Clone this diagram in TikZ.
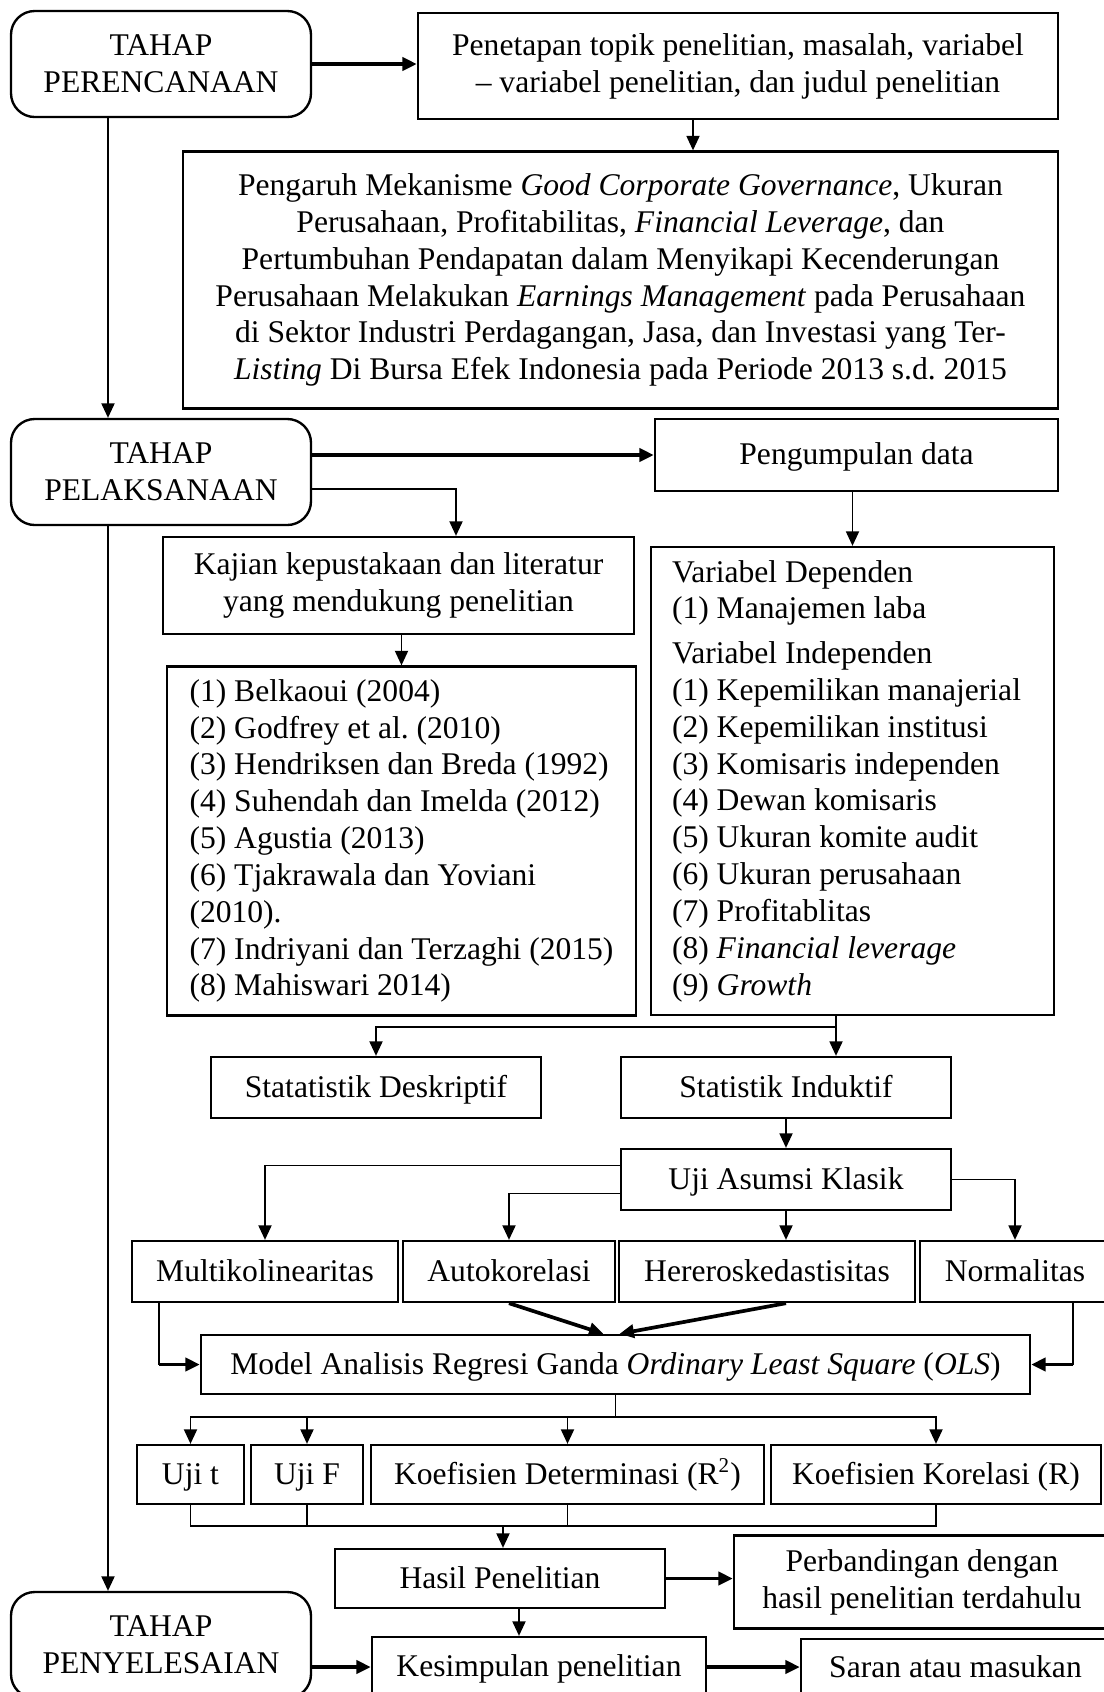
\documentclass[tikz,border=0pt]{standalone}
\usepackage{fontspec}
\setmainfont{Liberation Serif}
\usepackage{tikz}
\usetikzlibrary{arrows.meta,positioning,calc}
\newcommand{\pix}[1]{#1*0.38pt}

\begin{document}
\frenchspacing
\begin{tikzpicture}[
  x=0.38pt, y=-0.38pt,
  box/.style={draw, line width=0.9pt, inner sep=0pt, align=center, font=\fontsize{12}{14}\selectfont},
  cell/.style={box, text height=1em, text depth=0.25em},
  phase/.style={box, rounded corners=9pt, minimum width=\pix{300}, minimum height=\pix{106}},
  list/.style={box, align=flush left},
  link/.style={line width=0.4pt},
  arrow/.style={-{Triangle[length=5.5pt, width=5pt]}, line width=0.5pt},
  boldarrow/.style={arrow, line width=1.4pt}
]
\useasboundingbox (0,0) rectangle (1104,1692);

\node[phase] (plan) at (161,64) {TAHAP\\PERENCANAAN};
\node[box, minimum width=\pix{640}, minimum height=\pix{106}] (topic) at (738,66) {Penetapan topik penelitian, masalah, variabel\\– variabel penelitian, dan judul penelitian};
\node[box, minimum width=\pix{875}, minimum height=\pix{257}] (title) at (620.5,280) {Pengaruh Mekanisme \textit{Good Corporate Governance}, Ukuran\\Perusahaan, Profitabilitas, \textit{Financial Leverage}, dan\\Pertumbuhan Pendapatan dalam Menyikapi Kecenderungan\\Perusahaan Melakukan \textit{Earnings Management} pada Perusahaan\\di Sektor Industri Perdagangan, Jasa, dan Investasi yang Ter-\\\textit{Listing} Di Bursa Efek Indonesia pada Periode 2013 s.d. 2015};

\node[phase] (exec) at (161,472) {TAHAP\\PELAKSANAAN};
\node[cell, minimum width=\pix{403}, minimum height=\pix{72}] (collect) at (856.5,455) {Pengumpulan data};
\node[box, minimum width=\pix{471}, minimum height=\pix{97}] (review) at (398.5,585.5) {Kajian kepustakaan dan literatur\\yang mendukung penelitian};
\node[list, minimum width=\pix{469}, minimum height=\pix{349}] (refs) at (401.5,841) {(1) Belkaoui (2004)\\(2) Godfrey et al. (2010)\\(3) Hendriksen dan Breda (1992)\\(4) Suhendah dan Imelda (2012)\\(5) Agustia (2013)\\(6) Tjakrawala dan Yoviani\\(2010).\\(7) Indriyani dan Terzaghi (2015)\\(8) Mahiswari 2014)};
\node[list, text width=\pix{361}, minimum width=\pix{403}, minimum height=\pix{468}] (vars) at (852.5,781) {Variabel Dependen\\(1) Manajemen laba\\[3pt]Variabel Independen\\(1) Kepemilikan manajerial\\(2) Kepemilikan institusi\\(3) Komisaris independen\\(4) Dewan komisaris\\(5) Ukuran komite audit\\(6) Ukuran perusahaan\\(7) Profitablitas\\(8) \textit{Financial leverage}\\(9) \textit{Growth}};

\node[cell, minimum width=\pix{330}, minimum height=\pix{61}] (desc) at (376,1087.5) {Statatistik Deskriptif};
\node[cell, minimum width=\pix{330}, minimum height=\pix{61}] (induct) at (786,1087.5) {Statistik Induktif};
\node[cell, minimum width=\pix{330}, minimum height=\pix{61}] (assume) at (786,1179.5) {Uji Asumsi Klasik};

\node[cell, minimum width=\pix{266}, minimum height=\pix{61}] (multi) at (265,1271.5) {Multikolinearitas};
\node[cell, minimum width=\pix{212}, minimum height=\pix{61}] (auto) at (509,1271.5) {Autokorelasi};
\node[cell, minimum width=\pix{296}, minimum height=\pix{61}] (hetero) at (767,1271.5) {Hereroskedastisitas};
\node[cell, minimum width=\pix{190}, minimum height=\pix{61}] (normal) at (1015,1271.5) {Normalitas};
\node[cell, minimum width=\pix{829}, minimum height=\pix{59}] (ols) at (615.5,1364.5) {Model Analisis Regresi Ganda \textit{Ordinary Least Square} (\textit{OLS})};

\node[cell, minimum width=\pix{107}, minimum height=\pix{59}] (ujit) at (190.5,1474.5) {Uji t};
\node[cell, minimum width=\pix{112}, minimum height=\pix{59}] (ujif) at (307,1474.5) {Uji F};
\node[cell, minimum width=\pix{393}, minimum height=\pix{59}] (kd) at (567.5,1474.5) {Koefisien Determinasi (R\textsuperscript{2})};
\node[cell, minimum width=\pix{330}, minimum height=\pix{59}] (kk) at (936,1474.5) {Koefisien Korelasi (R)};

\node[cell, minimum width=\pix{330}, minimum height=\pix{59}] (result) at (500,1578.5) {Hasil Penelitian};
\node[box, minimum width=\pix{376}, minimum height=\pix{93}] (compare) at (922,1582) {Perbandingan dengan\\hasil penelitian terdahulu};
\node[phase] (finish) at (161,1645) {TAHAP\\PENYELESAIAN};
\node[cell, minimum width=\pix{334}, minimum height=\pix{60}] (concl) at (539,1667) {Kesimpulan penelitian};
\node[cell, minimum width=\pix{309}, minimum height=\pix{58}] (advice) at (955.5,1668) {Saran atau masukan};

\coordinate (lanephase) at (108,0);
\coordinate (lanetitle) at (693,0);
\coordinate (lanereview) at (456,0);
\coordinate (lanemulti) at (159,0);
\coordinate (lanenormal) at (1073,0);
\coordinate (laneresult) at (519,0);
\coordinate (fork1) at (836,1027);
\coordinate (fork2) at (615,1417);
\coordinate (merge) at (503,1526);

\draw[boldarrow] (plan.east) -- (plan.east -| topic.west);
\draw[arrow] (topic.south -| lanetitle) -- (title.north -| lanetitle);
\draw[arrow] (plan.south -| lanephase) -- (exec.north -| lanephase);
\draw[arrow] (exec.south -| lanephase) -- (finish.north -| lanephase);
\draw[boldarrow] (exec.east |- collect.west) -- (collect.west);
\draw[arrow] ([yshift=\pix{-17}]exec.east) -| (review.north -| lanereview);
\draw[arrow] (collect.south -| vars.north) -- (vars.north);
\draw[arrow] (review.south -| refs.north) -- (refs.north);

\draw[link] (vars.south -| fork1) -- (fork1);
\draw[arrow] (fork1) -- (induct.north -| fork1);
\draw[arrow] (fork1) -| (desc.north);
\draw[arrow] (induct.south) -- (assume.north);
\draw[arrow] ([yshift=\pix{14}]assume.west) -| (multi.north);
\draw[arrow] ([yshift=\pix{-14}]assume.west) -| (auto.north);
\draw[arrow] (assume.south) -- (assume.south |- hetero.north);
\draw[arrow] (assume.east) -| (normal.north);

\draw[boldarrow] (auto.south) -- ([xshift=\pix{-12}]ols.north);
\draw[boldarrow] (hetero.south -| assume.south) -- ([xshift=\pix{4}]ols.north);
\draw[link] (multi.south -| lanemulti) -- (ols.west -| lanemulti);
\draw[boldarrow] (ols.west -| lanemulti) -- (ols.west);
\draw[link] (normal.south -| lanenormal) -- (ols.east -| lanenormal);
\draw[boldarrow] (ols.east -| lanenormal) -- (ols.east);

\draw[link] (ols.south) -- (ols.south |- fork2);
\draw[arrow] (ols.south |- fork2) -| (ujit.north);
\draw[arrow] (ols.south |- fork2) -| (ujif.north);
\draw[arrow] (ols.south |- fork2) -| (kd.north);
\draw[arrow] (ols.south |- fork2) -| (kk.north);

\draw[link] (ujit.south) |- (merge -| kk.south) -- (kk.south);
\draw[link] (ujif.south) -- (ujif.south |- merge);
\draw[link] (kd.south) -- (kd.south |- merge);
\draw[arrow] (merge) -- (result.north -| merge);
\draw[boldarrow] (result.east) -- (result.east -| compare.west);
\draw[arrow] (result.south -| laneresult) -- (concl.north -| laneresult);
\draw[boldarrow] (finish.east |- concl.west) -- (concl.west);
\draw[boldarrow] (concl.east) -- (concl.east -| advice.west);
\end{tikzpicture}
\end{document}
